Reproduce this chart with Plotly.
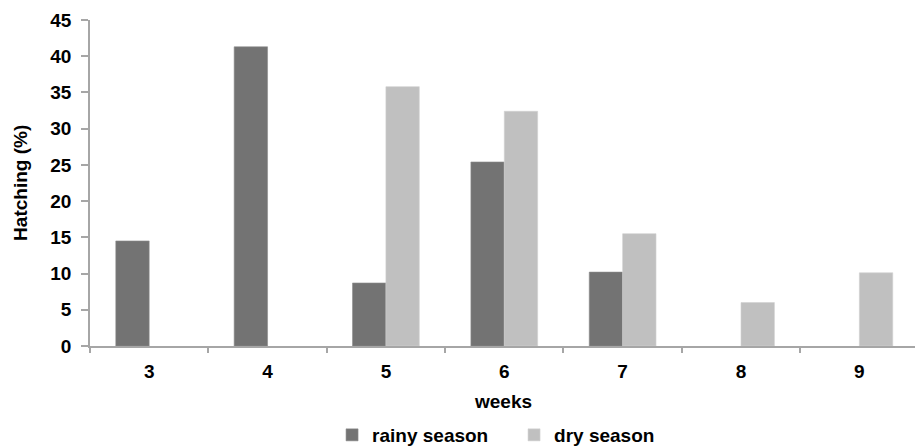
import plotly.graph_objects as go

# Hatching percentage by week of incubation, per season
weeks = ["3", "4", "5", "6", "7", "8", "9"]
rainy_season = [14.5, 41.3, 8.7, 25.4, 10.2, None, None]
dry_season = [None, None, 35.8, 32.4, 15.5, 6.0, 10.1]
y_ticks = [0, 5, 10, 15, 20, 25, 30, 35, 40, 45]

FONT = "Liberation Sans, Arial, sans-serif"
SIZE = 19
AXIS_GREY = "#a6a6a6"
bold = dict(family=FONT, size=SIZE, color="black", weight="bold")

fig = go.Figure()
fig.add_trace(go.Bar(
    x=weeks, y=rainy_season, name="rainy season",
    marker=dict(color="#737373", line=dict(color="#8c8c8c", width=0.6)),
))
fig.add_trace(go.Bar(
    x=weeks, y=dry_season, name="dry season",
    marker=dict(color="#c0c0c0", line=dict(color="#d0d0d0", width=0.6)),
))

fig.update_layout(
    width=915, height=446,
    margin=dict(l=90, r=0, t=20, b=100, autoexpand=False),
    paper_bgcolor="white", plot_bgcolor="white",
    barmode="group", bargap=0.436, bargroupgap=0,
    font=bold,
    showlegend=True,
    legend=dict(
        orientation="h", x=0.514, xanchor="center", y=-0.273, yanchor="middle",
        font=bold, itemwidth=30, tracegroupgap=0,
        entrywidth=137, entrywidthmode="pixels",
    ),
    xaxis=dict(
        type="category", range=[-0.5, 6.47],
        showgrid=False, showline=True, linecolor=AXIS_GREY, linewidth=1.5,
        ticks="outside", ticklen=5, tickcolor=AXIS_GREY, tickwidth=1.5,
        tickson="boundaries", ticklabelstandoff=7,
        tickfont=bold,
    ),
    yaxis=dict(
        range=[0, 45], tickvals=y_ticks,
        showgrid=False, showline=True, linecolor=AXIS_GREY, linewidth=1.5,
        ticks="outside", ticklen=7, tickcolor=AXIS_GREY, tickwidth=1.5,
        ticklabelstandoff=6, zeroline=False,
        tickfont=bold,
    ),
    annotations=[
        dict(text="weeks", x=0.5, y=-0.169, xref="paper", yref="paper",
             xanchor="center", yanchor="middle", showarrow=False, font=bold),
        dict(text="Hatching (%)", x=-0.085, y=0.5, xref="paper", yref="paper",
             xanchor="center", yanchor="middle", showarrow=False, textangle=-90,
             font=bold),
    ],
)

fig.write_html("out.html")
